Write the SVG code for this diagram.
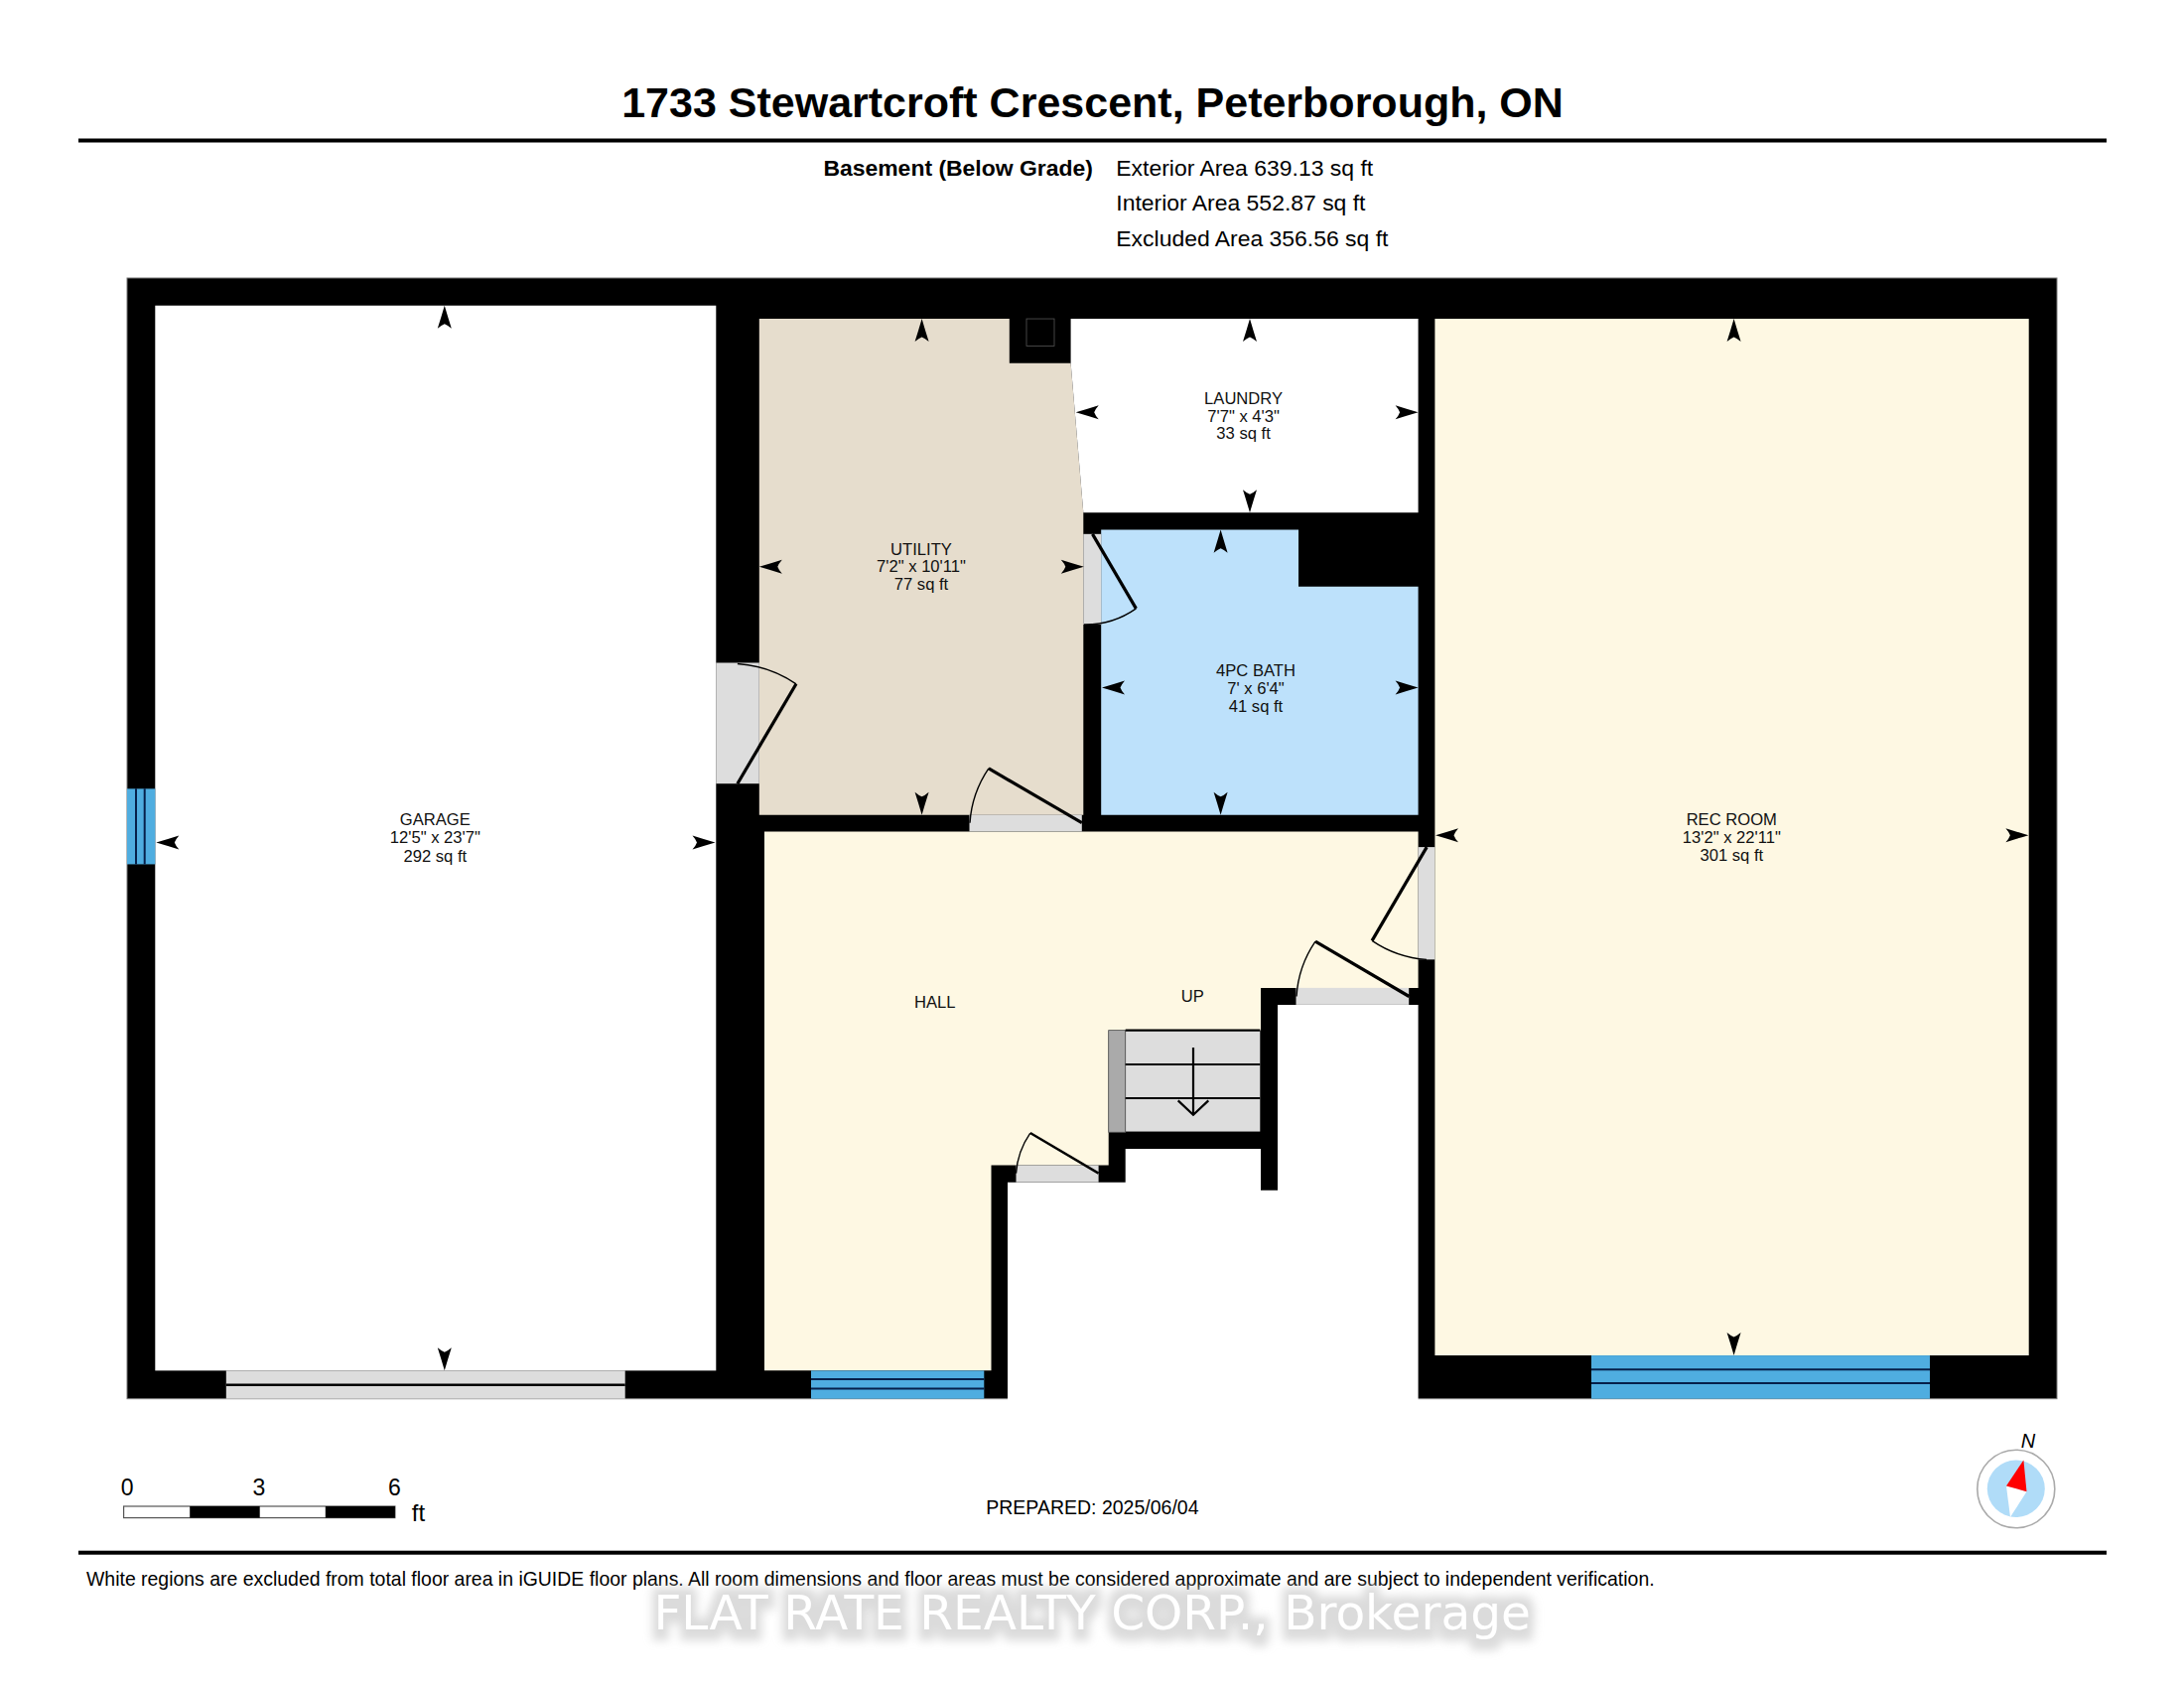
<svg xmlns="http://www.w3.org/2000/svg" width="2200" height="1700" viewBox="0 0 2200 1700">
<style>
text{font-family:"Liberation Sans",Arial,sans-serif;fill:#000}
.lbl{font-size:16.600px;text-anchor:middle;fill:#111}
.meta{font-size:22.950px}
.wall{fill:#000}
.open{fill:#ddd}
.win{fill:#4fade0}
.winl{stroke:#06204a;stroke-width:2;fill:none}
.leaf{stroke:#000;stroke-width:3.200;fill:none}
.thin{stroke-width:2.400}
.arc{stroke:#000;stroke-width:1.400;fill:none}
.tread{stroke:#000;stroke-width:2.200;fill:none}
.wm{font-family:"DejaVu Sans",sans-serif;font-size:48.600px;fill:#fff}
</style>
<defs>
<path id="ah" d="M0 0Q3.500 12 7 23Q3 19.500 0 18.500Q-3 19.500 -7 23Q-3.500 12 0 0Z" fill="#000"/>
<filter id="halo" x="-5%" y="-30%" width="110%" height="170%">
<feMorphology in="SourceAlpha" operator="dilate" radius="6 9" result="d"/>
<feGaussianBlur in="d" stdDeviation="5" result="b"/>
<feOffset in="b" dy="2" result="o"/>
<feFlood flood-color="#d2d2d2" flood-opacity="0.800"/>
<feComposite in2="o" operator="in" result="s"/>
<feMerge><feMergeNode in="s"/><feMergeNode in="SourceGraphic"/></feMerge>
</filter>
</defs>
<rect width="2200" height="1700" fill="#fff"/>

<g id="header">
<text x="1100.500" y="118.300" text-anchor="middle" font-size="43" font-weight="700">1733 Stewartcroft Crescent, Peterborough, ON</text>
<rect x="79" y="139.500" width="2043" height="4"/>
<text x="829.400" y="176.700" class="meta" font-weight="700">Basement (Below Grade)</text>
<text x="1124.300" y="176.700" class="meta">Exterior Area 639.13 sq ft</text>
<text x="1124.300" y="212.300" class="meta">Interior Area 552.87 sq ft</text>
<text x="1124.300" y="248" class="meta">Excluded Area 356.56 sq ft</text>
</g>

<g id="plan" transform="matrix(1 0 0 1.00124 0 -0.350)">
<g id="walls">
<rect x="128" y="280" width="1944" height="1127.300" class="wall" stroke="#777" stroke-width="1"/>
<polygon points="1015,1408.500 1015,1189.500 1133.700,1189.500 1133.700,1156 1270,1156 1270,1197.700 1287,1197.700 1287,1011 1428.600,1011 1428.600,1408.500" fill="#fff"/>
</g>

<g id="garage">
<rect x="156.300" y="307.700" width="565" height="1071.300" fill="#fff"/>
<rect x="227.800" y="1379" width="401.900" height="28.300" class="open"/>
<line x1="227.800" y1="1393.300" x2="629.700" y2="1393.300" stroke="#000" stroke-width="2.500"/>
<rect x="128" y="793.700" width="28.300" height="76" class="win"/>
<path d="M137 793.700V869.700M145.700 793.700V869.700" class="winl"/>
<text class="lbl" x="438.300" y="830">GARAGE</text>
<text class="lbl" x="438.300" y="848.700">12'5" x 23'7"</text>
<text class="lbl" x="438.300" y="867.300">292 sq ft</text>
</g>

<g id="utility">
<polygon points="764.800,321 1016.800,321 1016.800,365.700 1078.600,365.700 1091.300,516 1091.300,820 764.800,820" fill="#e6ddcd"/>
<rect x="1034" y="321" width="28" height="27.500" fill="#000" stroke="#555" stroke-width="0.800"/>
<rect x="721.300" y="667" width="43.500" height="121.600" class="open"/>
<path d="M742.900 788.600L802 688.300" class="leaf"/>
<path d="M802 688.300A118 118 0 0 0 742.900 668" class="arc"/>
<text class="lbl" x="928" y="558.200">UTILITY</text>
<text class="lbl" x="928" y="576">7'2" x 10'11"</text>
<text class="lbl" x="928" y="594">77 sq ft</text>
</g>

<g id="laundry">
<polygon points="1078.600,321 1428.600,321 1428.600,516 1091.300,516 1078.600,365.700" fill="#fff"/>
<text class="lbl" x="1252.600" y="406.600">LAUNDRY</text>
<text class="lbl" x="1252.600" y="424.400">7'7" x 4'3"</text>
<text class="lbl" x="1252.600" y="442.200">33 sq ft</text>
</g>

<g id="bath">
<polygon points="1109.200,533.300 1308,533.300 1308,590.300 1428.600,590.300 1428.600,820 1109.200,820" fill="#bde1fb"/>
<rect x="1091.300" y="537.500" width="17.900" height="91.100" class="open"/>
<path d="M1100.500 537.500L1144.400 612.500" class="leaf"/>
<path d="M1144.400 612.500A89 89 0 0 1 1092 628.600" class="arc"/>
<text class="lbl" x="1265" y="680.600">4PC BATH</text>
<text class="lbl" x="1265" y="698.600">7' x 6'4"</text>
<text class="lbl" x="1265" y="716.600">41 sq ft</text>
</g>

<g id="hall">
<polygon points="770,836.700 1428.600,836.700 1428.600,994 1270,994 1270,1036.700 1116.700,1036.700 1116.700,1172.500 998.500,1172.500 998.500,1379 770,1379" fill="#fef8e3"/>
<rect x="976.500" y="820" width="113.300" height="16.700" class="open"/>
<path d="M1089.800 828L995.900 773.300" class="leaf"/>
<path d="M995.900 773.300A110 110 0 0 0 977 828" class="arc"/>
<rect x="1428.600" y="852.400" width="16.800" height="113.100" class="open"/>
<path d="M1437.200 852.400L1382.100 946.500" class="leaf"/>
<path d="M1382.100 946.500A111 111 0 0 0 1437 965.500" class="arc"/>
<rect x="1305.500" y="994" width="113.700" height="17" class="open"/>
<path d="M1419.400 1002.600L1325 947.300" class="leaf"/>
<path d="M1325 947.300A110 110 0 0 0 1306 1002.600" class="arc"/>
<rect x="1023.500" y="1172.500" width="83.100" height="17" class="open"/>
<path d="M1106.600 1180.500L1037.800 1140" class="leaf thin"/>
<path d="M1037.800 1140A81 81 0 0 0 1023.500 1180.500" class="arc"/>
<rect x="817" y="1379" width="174.300" height="28.300" class="win"/>
<path d="M817 1387.700H991.300M817 1397H991.300" class="winl"/>
<text class="lbl" x="941.800" y="1014.500">HALL</text>
<text class="lbl" x="1201.300" y="1008">UP</text>
</g>

<g id="stairs">
<rect x="1133.700" y="1036.700" width="135.600" height="101.800" class="open"/>
<rect x="1116.700" y="1036.700" width="17" height="102.500" fill="#aaa" stroke="#555" stroke-width="0.800"/>
<path d="M1133.700 1036.700H1269.300M1133.700 1071H1269.300M1133.700 1105H1269.300" class="tread"/>
<path d="M1202 1054V1121.700M1186.700 1107.300L1202 1121.700L1217.300 1107.300" class="tread"/>
</g>

<g id="rec-room">
<rect x="1445.400" y="321" width="598.300" height="1042.700" fill="#fef8e3"/>
<rect x="1603" y="1363.700" width="341" height="43.600" class="win"/>
<path d="M1603 1378H1944M1603 1391.700H1944" class="winl"/>
<text class="lbl" x="1744.300" y="830">REC ROOM</text>
<text class="lbl" x="1744.300" y="848">13'2" x 22'11"</text>
<text class="lbl" x="1744.300" y="866">301 sq ft</text>
</g>

<g id="connectors">
<use href="#ah" transform="translate(447.800 307.700)"/>
<use href="#ah" transform="translate(447.800 1379) rotate(180)"/>
<use href="#ah" transform="translate(157.300 847.700) rotate(-90)"/>
<use href="#ah" transform="translate(720.500 847.700) rotate(90)"/>
<use href="#ah" transform="translate(928.600 321)"/>
<use href="#ah" transform="translate(928.600 820) rotate(180)"/>
<use href="#ah" transform="translate(764.800 570.400) rotate(-90)"/>
<use href="#ah" transform="translate(1091.800 570.400) rotate(90)"/>
<use href="#ah" transform="translate(1259 321)"/>
<use href="#ah" transform="translate(1259 516) rotate(180)"/>
<use href="#ah" transform="translate(1083.700 415) rotate(-90)"/>
<use href="#ah" transform="translate(1428.600 415) rotate(90)"/>
<use href="#ah" transform="translate(1229.600 533.300)"/>
<use href="#ah" transform="translate(1229.600 820) rotate(180)"/>
<use href="#ah" transform="translate(1110 692) rotate(-90)"/>
<use href="#ah" transform="translate(1428.600 692) rotate(90)"/>
<use href="#ah" transform="translate(1746.600 321)"/>
<use href="#ah" transform="translate(1746.600 1363.700) rotate(180)"/>
<use href="#ah" transform="translate(1446 840.500) rotate(-90)"/>
<use href="#ah" transform="translate(2043.400 840.500) rotate(90)"/>
</g>
</g>

<g id="scale">
<rect x="124.600" y="1517" width="273.300" height="11.600" fill="#fff" stroke="#555" stroke-width="1.200"/>
<rect x="191.200" y="1517" width="70.500" height="11.600"/>
<rect x="327.800" y="1517" width="70.100" height="11.600"/>
<text x="128.200" y="1506.400" font-size="23" text-anchor="middle">0</text>
<text x="260.800" y="1506.400" font-size="23" text-anchor="middle">3</text>
<text x="397.400" y="1506.400" font-size="23" text-anchor="middle">6</text>
<text x="414.800" y="1531.500" font-size="24">ft</text>
</g>

<g id="compass">
<ellipse cx="2030.800" cy="1499.500" rx="39" ry="39.300" fill="#fff" stroke="#aaa" stroke-width="1.600"/>
<ellipse cx="2030.800" cy="1499.200" rx="29" ry="28.700" fill="#b0dcf8"/>
<polygon points="2021,1496.500 2041.500,1502.200 2025,1527.900" fill="#fff"/>
<polygon points="2038.400,1470.500 2021,1496.500 2041.500,1502.200" fill="#f00"/>
<text x="2043" y="1457.700" font-size="20" font-style="italic" text-anchor="middle">N</text>
</g>

<g id="footer">
<text x="1100.400" y="1524.700" font-size="19.500" text-anchor="middle">PREPARED: 2025/06/04</text>
<rect x="79" y="1561.700" width="2043" height="4"/>
<text x="87" y="1596.800" font-size="19.460">White regions are excluded from total floor area in iGUIDE floor plans. All room dimensions and floor areas must be considered approximate and are subject to independent verification.</text>
<text x="658.400" y="1641.400" class="wm" filter="url(#halo)">FLAT RATE REALTY CORP., Brokerage</text>
</g>
</svg>
